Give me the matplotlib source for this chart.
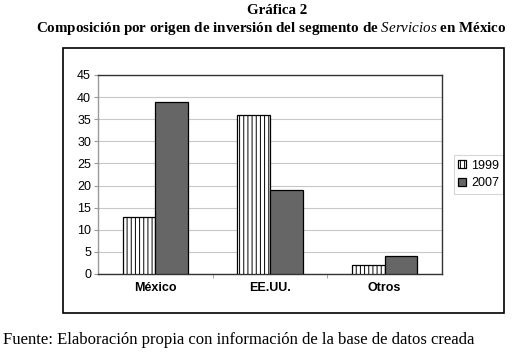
import numpy as np
import matplotlib.pyplot as plt
from matplotlib.patches import Rectangle

categories = ["México", "EE.UU.", "Otros"]
years = ["1999", "2007"]
values_1999 = [13, 36, 2]
values_2007 = [39, 19, 4]
y_ticks = [0, 5, 10, 15, 20, 25, 30, 35, 40, 45]

plt.rcParams['hatch.linewidth'] = 0.7
plt.rcParams['mathtext.fontset'] = 'custom'
plt.rcParams['mathtext.it'] = 'Liberation Serif:italic'
plt.rcParams['mathtext.rm'] = 'Liberation Serif'
sans = ['Liberation Sans', 'DejaVu Sans']
serif = ['Liberation Serif', 'DejaVu Serif']

fig = plt.figure(figsize=(5.19, 3.52), dpi=100)

# outer frame around the chart
fig.patches.append(Rectangle((0.1214, 0.1108), 0.8497, 0.7528, transform=fig.transFigure,
                             fill=False, edgecolor='black', linewidth=1.2))

ax = fig.add_axes([0.1888, 0.2216, 0.6628, 0.5654])
x = np.arange(len(categories))
w = 0.285
ax.bar(x - w / 2, values_1999, w, color='white', edgecolor='black', hatch='||||',
       linewidth=0.9, label=years[0], zorder=3)
ax.bar(x + w / 2, values_2007, w, color='#666666', edgecolor='black',
       linewidth=0.9, label=years[1], zorder=3)

ax.set_xlim(-0.5, 2.5)
ax.set_ylim(0, 45)
ax.set_yticks(y_ticks)
ax.set_yticklabels([str(t) for t in y_ticks], family=sans, fontsize=9)
ax.set_xticks(x)
ax.set_xticklabels(categories, family=sans, fontsize=9, fontweight='bold')
ax.set_xticks([0.5, 1.5], minor=True)
ax.tick_params(axis='x', which='major', length=0, pad=6)
ax.tick_params(axis='x', which='minor', length=3, color='#999999')
ax.tick_params(axis='y', length=3, color='#999999', pad=2)
ax.yaxis.grid(True, color='#c8c8c8', linewidth=0.8, zorder=0)
for s in ax.spines.values():
    s.set_color('#333333')
    s.set_linewidth(1.0)
ax.spines['left'].set_color('#999999')

leg = ax.legend(loc='center left', bbox_to_anchor=(1.035, 0.5), prop={'family': sans, 'size': 9},
                frameon=True, fancybox=False, edgecolor='#cccccc', handlelength=0.6,
                handleheight=0.6, handletextpad=0.4, borderpad=0.35, labelspacing=0.45,
                borderaxespad=0)
leg.get_frame().set_linewidth(0.8)

fig.text(0.534, 0.99, "Gráfica 2", ha='center', va='top', family=serif,
         fontsize=10.8, fontweight='bold')
fig.text(0.522, 0.942, "Composición por origen de inversión del segmento de $\\it{Servicios}$ en México",
         ha='center', va='top', family=serif, fontsize=10.8, fontweight='bold')
fig.text(0.006, 0.035, "Fuente: Elaboración propia con información de la base de datos creada",
         ha='left', va='center', family=serif, fontsize=12)

fig.savefig('out.png', dpi=100)
